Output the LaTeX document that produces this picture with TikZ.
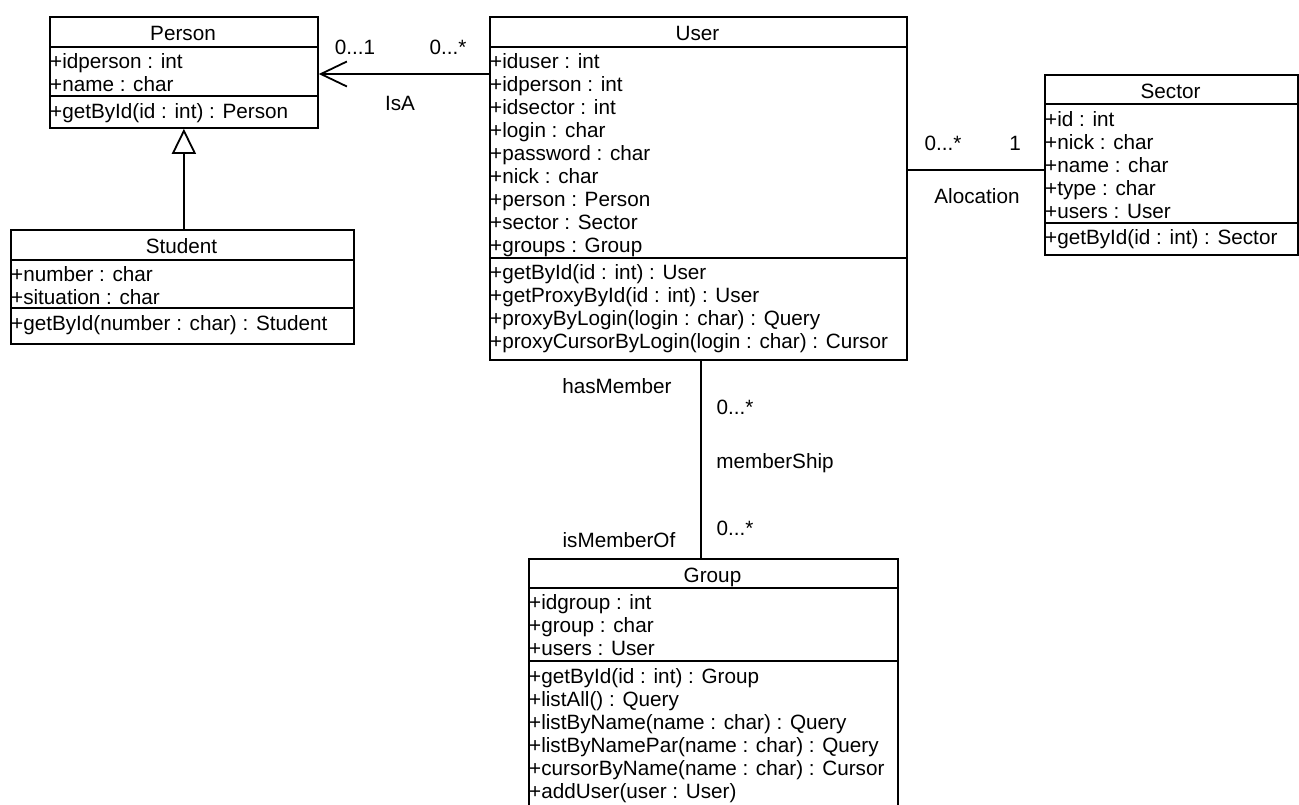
\documentclass[tikz,border=0pt]{standalone}
\usepackage{fontspec}
\setmainfont{Liberation Sans}
\usetikzlibrary{arrows.meta}
\begin{document}
\begin{tikzpicture}[x=1pt,y=-1pt,
  cls/.style={draw, line width=1.8pt, inner sep=0pt, anchor=north west},
  rowtext/.style={inner sep=0pt, anchor=base west, font=\fontsize{20.7}{23}\selectfont},
  ttl/.style={inner sep=0pt, anchor=base, font=\fontsize{20.7}{23}\selectfont},
  lbl/.style={inner sep=0pt, anchor=base, font=\fontsize{20.7}{23}\selectfont},
  conn/.style={line width=1.8pt}]
\useasboundingbox (0,0) rectangle (1299,804);

% ---------- Person ----------
\node[cls, minimum width=268pt, minimum height=111pt] (person) at (49,16) {};
\node[ttl] (person-t) at (183,40) {Person};
\draw[conn] (person.west |- 0,47) -- (person.east |- 0,47);
\draw[conn] (person.west |- 0,96) -- (person.east |- 0,96);
\foreach \t [count=\i] in {+idperson : int, +name : char}
  \node[rowtext] (person-a\i) at (50,{68+23.1*(\i-1)}) {\t};
\node[rowtext] (person-m1) at (50,118) {+getById(id : int) : Person};

% ---------- Student ----------
\node[cls, minimum width=343pt, minimum height=114pt] (student) at (10,229) {};
\node[ttl] (student-t) at (181.5,253) {Student};
\draw[conn] (student.west |- 0,260) -- (student.east |- 0,260);
\draw[conn] (student.west |- 0,308) -- (student.east |- 0,308);
\foreach \t [count=\i] in {+number : char, +situation : char}
  \node[rowtext] (student-a\i) at (11,{281+23.1*(\i-1)}) {\t};
\node[rowtext] (student-m1) at (11,330) {+getById(number : char) : Student};

% ---------- User ----------
\node[cls, minimum width=417pt, minimum height=343pt] (user) at (489,16) {};
\node[ttl] (user-t) at (697.5,40) {User};
\draw[conn] (user.west |- 0,47) -- (user.east |- 0,47);
\draw[conn] (user.west |- 0,258) -- (user.east |- 0,258);
\foreach \t [count=\i] in {+iduser : int, +idperson : int, +idsector : int, +login : char,
  +password : char, +nick : char, +person : Person, +sector : Sector, +groups : Group}
  \node[rowtext] (user-a\i) at (490,{68+23.1*(\i-1)}) {\t};
\foreach \t [count=\i] in {+getById(id : int) : User, +getProxyById(id : int) : User,
  +proxyByLogin(login : char) : Query, +proxyCursorByLogin(login : char) : Cursor}
  \node[rowtext] (user-m\i) at (490,{279+23.1*(\i-1)}) {\t};

% ---------- Sector ----------
\node[cls, minimum width=253pt, minimum height=180pt] (sector) at (1044,74) {};
\node[ttl] (sector-t) at (1170.5,98) {Sector};
\draw[conn] (sector.west |- 0,104) -- (sector.east |- 0,104);
\draw[conn] (sector.west |- 0,223) -- (sector.east |- 0,223);
\foreach \t [count=\i] in {+id : int, +nick : char, +name : char, +type : char, +users : User}
  \node[rowtext] (sector-a\i) at (1045,{126+23.2*(\i-1)}) {\t};
\node[rowtext] (sector-m1) at (1045,244) {+getById(id : int) : Sector};

% ---------- Group ----------
\node[cls, minimum width=369pt, minimum height=260pt] (group) at (528,558) {};
\node[ttl] (group-t) at (712.5,582) {Group};
\draw[conn] (group.west |- 0,588) -- (group.east |- 0,588);
\draw[conn] (group.west |- 0,661) -- (group.east |- 0,661);
\foreach \t [count=\i] in {+idgroup : int, +group : char, +users : User}
  \node[rowtext] (group-a\i) at (529,{609+23.1*(\i-1)}) {\t};
\foreach \t [count=\i] in {+getById(id : int) : Group, +listAll() : Query,
  +listByName(name : char) : Query, +listByNamePar(name : char) : Query,
  +cursorByName(name : char) : Cursor, +addUser(user : User)}
  \node[rowtext] (group-m\i) at (529,{683+23.1*(\i-1)}) {\t};

% ---------- connectors ----------
% generalization Student -> Person
\draw[conn, -{Triangle[open, length=25pt, width=24pt, fill=white]}]
  (student.north -| person.south) -- (person.south);
% IsA association User -> Person
\draw[conn, -{Straight Barb[length=26pt, width=25pt, line width=1.8pt]}]
  (user.west |- 0,74) -- (person.east |- 0,74);
% Alocation User -- Sector
\draw[conn] (user.east |- 0,170) -- (sector.west |- 0,170);
% memberShip User -- Group
\draw[conn] ([xshift=2.5pt]user.south) -- ([xshift=2.5pt]user.south |- group.north);

% ---------- labels ----------
\node[lbl] (l-01) at (355,54) {0...1};
\node[lbl] (l-0s1) at (448,54) {0...*};
\node[lbl] (l-isa) at (400,110) {IsA};
\node[lbl] (l-0s2) at (943,150) {0...*};
\node[lbl] (l-1) at (1015,150) {1};
\node[lbl] (l-aloc) at (977,203) {Alocation};
\node[lbl] (l-has) at (617,393) {hasMember};
\node[lbl] (l-0s3) at (735,414) {0...*};
\node[lbl] (l-memb) at (775,468) {memberShip};
\node[lbl] (l-0s4) at (735,535) {0...*};
\node[lbl] (l-isof) at (619,547) {isMemberOf};
\end{tikzpicture}
\end{document}
